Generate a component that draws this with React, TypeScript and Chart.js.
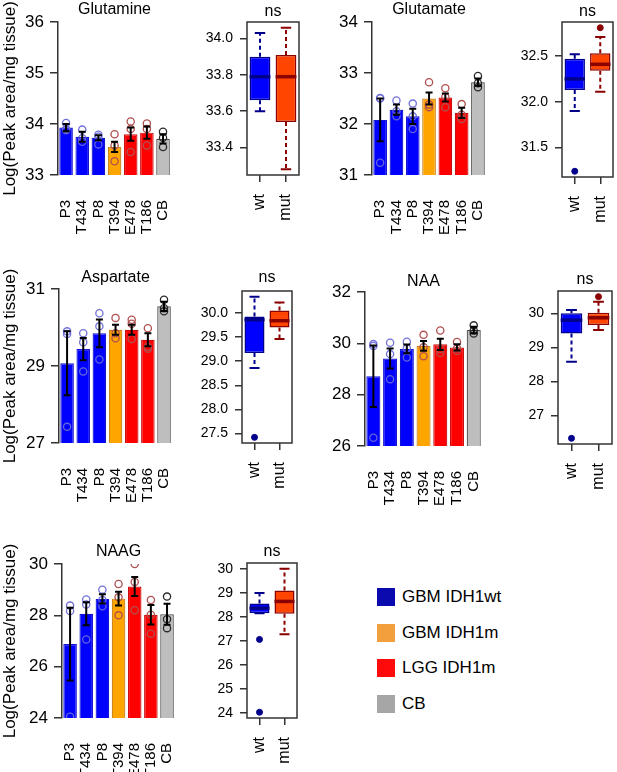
import React, { useEffect, useRef } from 'react';
import { Chart, registerables } from 'chart.js';

Chart.register(...registerables);

const FONT = "'Liberation Sans', Arial, Helvetica, sans-serif";
Chart.defaults.font.family = FONT;

// ---------------- data ----------------
const categories = ['P3', 'T434', 'P8', 'T394', 'E478', 'T186', 'CB'];
const categoryGroup = [0, 0, 0, 1, 2, 2, 3];
const legendLabels = ['GBM IDH1wt', 'GBM IDH1m', 'LGG IDH1m', 'CB'];
const boxLabels = ['wt', 'mut'];
const yAxisLabel = 'Log(Peak area/mg tissue)';
const boxTitle = 'ns';

// Glutamine
const glutamineMean = [33.93, 33.75, 33.73, 33.55, 33.8, 33.83, 33.71];
const glutamineSem = [0.07, 0.1, 0.05, 0.1, 0.13, 0.12, 0.09];
const glutaminePoints = [
  [34.02, 33.88, 33.9], [33.89, 33.65, 33.72], [33.79, 33.6, 33.75],
  [33.8, 33.27, 33.58], [34.05, 33.45, 33.9], [34.01, 33.58, 33.9], [33.85, 33.55, 33.73],
];
const glutamineTicks = [33, 34, 35, 36];
const glutamineBoxTicks = [33.4, 33.6, 33.8, 34.0];
const glutamineWt = [33.6, 33.66, 33.79, 33.9, 34.03];
const glutamineMut = [33.28, 33.54, 33.79, 33.91, 34.06];
const glutamineWtOut: number[] = [];
const glutamineMutOut: number[] = [];

// Glutamate
const glutamateMean = [32.08, 32.28, 32.15, 32.5, 32.52, 32.22, 32.82];
const glutamateSem = [0.42, 0.1, 0.15, 0.12, 0.08, 0.1, 0.07];
const glutamatePoints = [
  [32.51, 31.24, 32.5], [32.46, 32.15, 32.25], [32.4, 31.9, 32.15],
  [32.82, 32.33, 32.38], [32.7, 32.33, 32.53], [32.39, 32.1, 32.18], [32.94, 32.72, 32.8],
];
const glutamateTicks = [31, 32, 33, 34];
const glutamateBoxTicks = [31.5, 32.0, 32.5];
const glutamateWt = [31.9, 32.13, 32.25, 32.47, 32.52];
const glutamateMut = [32.11, 32.34, 32.41, 32.53, 32.71];
const glutamateWtOut = [31.24];
const glutamateMutOut = [32.81];

// Aspartate
const aspartateMean = [29.07, 29.44, 29.85, 29.94, 29.94, 29.68, 30.55];
const aspartateSem = [0.83, 0.29, 0.36, 0.13, 0.13, 0.17, 0.12];
const aspartatePoints = [
  [29.9, 29.83, 27.42], [29.85, 29.62, 28.86], [30.37, 30.03, 29.17],
  [30.25, 29.85, 29.72], [30.2, 30.1, 29.7], [29.98, 29.5, 29.45], [30.72, 30.5, 30.42],
];
const aspartateTicks = [27, 29, 31];
const aspartateBoxTicks = [27.5, 28.0, 28.5, 29.0, 29.5, 30.0];
const aspartateWt = [28.86, 29.17, 29.86, 29.93, 30.34];
const aspartateMut = [29.46, 29.7, 29.84, 30.05, 30.22];
const aspartateWtOut = [27.42];
const aspartateMutOut: number[] = [];

// NAA
const naaMean = [28.72, 29.41, 29.78, 29.9, 29.96, 29.84, 30.52];
const naaSem = [1.2, 0.39, 0.17, 0.19, 0.22, 0.12, 0.13];
const naaPoints = [
  [29.97, 29.9, 26.32], [30.02, 29.58, 28.6], [30.06, 29.8, 29.45],
  [30.33, 29.85, 29.5], [30.5, 29.78, 29.62], [30.05, 29.8, 29.7], [30.7, 30.5, 30.38],
];
const naaTicks = [26, 28, 30, 32];
const naaBoxTicks = [27, 28, 29, 30];
const naaWt = [28.58, 29.41, 29.8, 30.0, 30.1];
const naaMut = [29.51, 29.66, 29.87, 30.02, 30.34];
const naaWtOut = [26.33];
const naaMutOut = [30.49];

// NAAG
const naagMean = [26.88, 28.06, 28.64, 28.65, 29.12, 28.02, 28.04];
const naagSem = [1.42, 0.45, 0.18, 0.27, 0.37, 0.38, 0.41];
const naagPoints = [
  [28.38, 28.17, 24.05], [28.62, 28.42, 27.06], [29.0, 28.6, 28.35],
  [29.22, 28.7, 28.0], [30.0, 29.3, 28.2], [28.6, 28.02, 27.28], [28.73, 27.85, 27.5],
];
const naagTicks = [24, 26, 28, 30];
const naagBoxTicks = [24, 25, 26, 27, 28, 29, 30];
const naagWt = [28.15, 28.15, 28.36, 28.55, 28.99];
const naagMut = [27.27, 28.13, 28.64, 29.1, 30.0];
const naagWtOut = [27.06, 24.03];
const naagMutOut: number[] = [];

// ---------------- styles ----------------
const barFill = ['#0000FF', '#FFA500', '#FF0000', '#BEBEBE'];
const barBorder = ['#1515D0', '#C8801A', '#C81010', '#4A4A4A'];
const pointColor = ['rgba(105,105,215,0.95)', '#B0504F', '#B0504F', '#2A2A2A'];
const legendColors = ['#0A0AAE', '#F2A03D', '#FF0A0A', '#A6A6A6'];
const boxFill = ['#0000FF', '#FF4500'];
const boxLine = ['#00008B', '#8B0000'];

type Rect = { l: number; r: number; t: number; b: number };

interface BarSpec {
  title: string; mean: number[]; sem: number[]; points: number[][]; ticks: number[];
  plot: Rect; titleY: number; showYTitle: boolean;
}
interface BoxSpec {
  wt: number[]; mut: number[]; wtOut: number[]; mutOut: number[]; ticks: number[]; decimals: number;
  plot: Rect; titleY: number;
}

const TITLE_H = 26;
const BAR_X_H = 62;
const BOX_X_H = 52;

function BarPanel({ spec }: { spec: BarSpec }) {
  const ref = useRef<HTMLCanvasElement>(null);
  const left = spec.showYTitle ? 0 : spec.plot.l - 40;
  const yW = spec.plot.l - left;
  const width = spec.plot.r - left + 4;
  const top = spec.plot.t - TITLE_H;
  const height = TITLE_H + spec.plot.b - spec.plot.t + BAR_X_H;
  const pt = spec.titleY - top - 9.6;
  const pb = TITLE_H - 19.2 - pt;

  useEffect(() => {
    const pts: { x: string; y: number }[] = [];
    const ptColors: string[] = [];
    spec.points.forEach((arr, i) => arr.forEach((v) => {
      pts.push({ x: categories[i], y: v });
      ptColors.push(pointColor[categoryGroup[i]]);
    }));
    const errPlugin = {
      id: 'errbars',
      afterDatasetsDraw(chart: any) {
        const ctx = chart.ctx; const xs = chart.scales.x; const ys = chart.scales.y;
        const a = chart.chartArea;
        ctx.save();
        ctx.beginPath(); ctx.rect(a.left, a.top, a.right - a.left, a.bottom - a.top); ctx.clip();
        ctx.strokeStyle = '#000'; ctx.lineWidth = 2;
        spec.mean.forEach((m, i) => {
          const x = xs.getPixelForValue(i);
          const y1 = ys.getPixelForValue(m - spec.sem[i]);
          const y2 = ys.getPixelForValue(m + spec.sem[i]);
          ctx.beginPath();
          ctx.moveTo(x, y1); ctx.lineTo(x, y2);
          ctx.moveTo(x - 3.5, y1); ctx.lineTo(x + 3.5, y1);
          ctx.moveTo(x - 3.5, y2); ctx.lineTo(x + 3.5, y2);
          ctx.stroke();
        });
        ctx.restore();
      },
    };
    const chart = new Chart(ref.current as HTMLCanvasElement, {
      type: 'bar',
      data: {
        labels: categories,
        datasets: [
          {
            type: 'line', data: pts as any, showLine: false, order: 0, clip: 0 as any,
            pointRadius: 3.6, pointHoverRadius: 3.6, pointBorderWidth: 1.3,
            pointBackgroundColor: 'rgba(0,0,0,0)', pointBorderColor: ptColors,
          } as any,
          {
            type: 'bar', data: spec.mean, order: 1,
            backgroundColor: categoryGroup.map((g) => barFill[g]),
            borderColor: categoryGroup.map((g) => barBorder[g]),
            borderWidth: 1.2, borderSkipped: false, barPercentage: 0.84, categoryPercentage: 1,
          } as any,
        ],
      },
      options: {
        responsive: false, animation: false, devicePixelRatio: 1, events: [],
        layout: { padding: { left: 0, top: 0, bottom: 0, right: 4 } },
        plugins: {
          legend: { display: false }, tooltip: { enabled: false },
          title: {
            display: true, text: spec.title, color: '#000', fullSize: false,
            font: { family: FONT, size: 16, weight: 'normal' }, padding: { top: pt, bottom: pb },
          },
        },
        scales: {
          x: {
            type: 'category', offset: true,
            grid: { display: false }, border: { display: false },
            ticks: { color: '#000', font: { family: FONT, size: 15 }, padding: 17, minRotation: 90, maxRotation: 90, autoSkip: false },
            afterFit(s: any) { s.height = BAR_X_H; s.paddingLeft = 0; s.paddingRight = 0; },
          },
          y: {
            type: 'linear', min: spec.ticks[0], max: spec.ticks[spec.ticks.length - 1],
            afterBuildTicks(s: any) { s.ticks = spec.ticks.map((v) => ({ value: v })); },
            ticks: { color: '#000', font: { family: FONT, size: 17 }, padding: 6 },
            grid: { drawOnChartArea: false, drawTicks: true, tickLength: 8, color: '#333', lineWidth: 1.5 },
            border: { display: true, color: '#333', width: 1.5 },
            title: spec.showYTitle
              ? { display: true, text: yAxisLabel, color: '#000', font: { family: FONT, size: 17 }, padding: 0 }
              : { display: false },
            afterFit(s: any) { s.width = yW; s.paddingTop = 0; s.paddingBottom = 0; },
          },
        },
      } as any,
      plugins: [errPlugin],
    });
    return () => chart.destroy();
  }, []);

  return <canvas ref={ref} width={width} height={height} style={{ position: 'absolute', left, top, width, height }} />;
}

function BoxPanel({ spec }: { spec: BoxSpec }) {
  const ref = useRef<HTMLCanvasElement>(null);
  const yW = 45;
  const left = spec.plot.l - yW;
  const width = spec.plot.r - left + 3;
  const top = spec.plot.t - TITLE_H;
  const height = TITLE_H + spec.plot.b - spec.plot.t + BOX_X_H;
  const pt = spec.titleY - top - 9.6;
  const pb = TITLE_H - 19.2 - pt;

  useEffect(() => {
    const all = [...spec.wt, ...spec.mut, ...spec.wtOut, ...spec.mutOut];
    const lo = Math.min(...all); const hi = Math.max(...all);
    const ext = (hi - lo) * 0.04;
    const outliers: { x: string; y: number }[] = [];
    const outColors: string[] = [];
    spec.wtOut.forEach((v) => { outliers.push({ x: boxLabels[0], y: v }); outColors.push(boxLine[0]); });
    spec.mutOut.forEach((v) => { outliers.push({ x: boxLabels[1], y: v }); outColors.push(boxLine[1]); });

    const statsPlugin = {
      id: 'boxstats',
      afterDatasetsDraw(chart: any) {
        const ctx = chart.ctx; const ys = chart.scales.y;
        const meta = chart.getDatasetMeta(1);
        [spec.wt, spec.mut].forEach((st, i) => {
          const el = meta.data[i]; const x = el.x; const w = el.width;
          const py = (v: number) => ys.getPixelForValue(v);
          ctx.save();
          ctx.strokeStyle = boxLine[i]; ctx.lineWidth = 2;
          ctx.setLineDash([4, 3]);
          ctx.beginPath();
          ctx.moveTo(x, py(st[3])); ctx.lineTo(x, py(st[4]));
          ctx.moveTo(x, py(st[1])); ctx.lineTo(x, py(st[0]));
          ctx.stroke();
          ctx.setLineDash([]);
          ctx.beginPath();
          ctx.moveTo(x - w * 0.25, py(st[4])); ctx.lineTo(x + w * 0.25, py(st[4]));
          ctx.moveTo(x - w * 0.25, py(st[0])); ctx.lineTo(x + w * 0.25, py(st[0]));
          ctx.stroke();
          ctx.lineWidth = 3.5;
          ctx.beginPath();
          ctx.moveTo(x - w / 2, py(st[2])); ctx.lineTo(x + w / 2, py(st[2]));
          ctx.stroke();
          ctx.restore();
        });
      },
    };
    const framePlugin = {
      id: 'frame',
      afterDraw(chart: any) {
        const { left: l, top: t, right: r, bottom: b } = chart.chartArea;
        const ctx = chart.ctx;
        ctx.save(); ctx.strokeStyle = '#333'; ctx.lineWidth = 1.5;
        ctx.strokeRect(l, t, r - l, b - t); ctx.restore();
      },
    };

    const chart = new Chart(ref.current as HTMLCanvasElement, {
      type: 'bar',
      data: {
        labels: boxLabels,
        datasets: [
          {
            type: 'line', data: outliers as any, showLine: false, order: 0,
            pointRadius: 3, pointHoverRadius: 3, pointBorderWidth: 1,
            pointBackgroundColor: outColors, pointBorderColor: outColors,
          } as any,
          {
            type: 'bar', order: 1,
            data: [[spec.wt[1], spec.wt[3]], [spec.mut[1], spec.mut[3]]] as any,
            backgroundColor: boxFill, borderColor: boxLine, borderWidth: 1.5, borderSkipped: false,
            barPercentage: 0.8, categoryPercentage: 1,
          } as any,
        ],
      },
      options: {
        responsive: false, animation: false, devicePixelRatio: 1, events: [],
        layout: { padding: { left: 0, top: 0, bottom: 0, right: 3 } },
        plugins: {
          legend: { display: false }, tooltip: { enabled: false },
          title: {
            display: true, text: boxTitle, color: '#000', fullSize: false,
            font: { family: FONT, size: 16, weight: 'normal' }, padding: { top: pt, bottom: pb },
          },
        },
        scales: {
          x: {
            type: 'category', offset: true,
            grid: { display: true, drawOnChartArea: false, drawTicks: true, tickLength: 7, offset: false, color: '#333', lineWidth: 1.5 },
            border: { display: false },
            ticks: { color: '#000', font: { family: FONT, size: 16 }, padding: 12, minRotation: 90, maxRotation: 90, autoSkip: false },
            afterFit(s: any) { s.height = BOX_X_H; s.paddingLeft = 0; s.paddingRight = 0; },
          },
          y: {
            type: 'linear', min: lo - ext, max: hi + ext,
            afterBuildTicks(s: any) { s.ticks = spec.ticks.map((v) => ({ value: v })); },
            ticks: { color: '#000', font: { family: FONT, size: 14 }, padding: 7, callback: (v: any) => Number(v).toFixed(spec.decimals) },
            grid: { drawOnChartArea: false, drawTicks: true, tickLength: 7, color: '#333', lineWidth: 1.5 },
            border: { display: false },
            afterFit(s: any) { s.width = yW; s.paddingTop = 0; s.paddingBottom = 0; },
          },
        },
      } as any,
      plugins: [statsPlugin, framePlugin],
    });
    return () => chart.destroy();
  }, []);

  return <canvas ref={ref} width={width} height={height} style={{ position: 'absolute', left, top, width, height }} />;
}

const barSpecs: BarSpec[] = [
  { title: 'Glutamine', mean: glutamineMean, sem: glutamineSem, points: glutaminePoints, ticks: glutamineTicks, plot: { l: 58, r: 172, t: 22, b: 175 }, titleY: 10, showYTitle: true },
  { title: 'Glutamate', mean: glutamateMean, sem: glutamateSem, points: glutamatePoints, ticks: glutamateTicks, plot: { l: 372, r: 487, t: 22, b: 175 }, titleY: 10, showYTitle: false },
  { title: 'Aspartate', mean: aspartateMean, sem: aspartateSem, points: aspartatePoints, ticks: aspartateTicks, plot: { l: 59, r: 173, t: 289, b: 443 }, titleY: 278, showYTitle: true },
  { title: 'NAA', mean: naaMean, sem: naaSem, points: naaPoints, ticks: naaTicks, plot: { l: 365, r: 483, t: 292, b: 446 }, titleY: 282, showYTitle: false },
  { title: 'NAAG', mean: naagMean, sem: naagSem, points: naagPoints, ticks: naagTicks, plot: { l: 62, r: 176, t: 564, b: 718 }, titleY: 552, showYTitle: true },
];

const boxSpecs: BoxSpec[] = [
  { wt: glutamineWt, mut: glutamineMut, wtOut: glutamineWtOut, mutOut: glutamineMutOut, ticks: glutamineBoxTicks, decimals: 1, plot: { l: 247, r: 299, t: 22, b: 175 }, titleY: 12 },
  { wt: glutamateWt, mut: glutamateMut, wtOut: glutamateWtOut, mutOut: glutamateMutOut, ticks: glutamateBoxTicks, decimals: 1, plot: { l: 562, r: 614, t: 22, b: 177 }, titleY: 12 },
  { wt: aspartateWt, mut: aspartateMut, wtOut: aspartateWtOut, mutOut: aspartateMutOut, ticks: aspartateBoxTicks, decimals: 1, plot: { l: 242, r: 293, t: 291, b: 443 }, titleY: 278 },
  { wt: naaWt, mut: naaMut, wtOut: naaWtOut, mutOut: naaMutOut, ticks: naaBoxTicks, decimals: 0, plot: { l: 558, r: 613, t: 291, b: 444 }, titleY: 280 },
  { wt: naagWt, mut: naagMut, wtOut: naagWtOut, mutOut: naagMutOut, ticks: naagBoxTicks, decimals: 0, plot: { l: 247, r: 298, t: 563, b: 718 }, titleY: 552 },
];

export default function App() {
  return (
    <div style={{ position: 'absolute', left: 0, top: 0, width: 617, height: 772, background: '#fff', overflow: 'hidden' }}>
      {barSpecs.map((s, i) => <BarPanel key={'bar' + i} spec={s} />)}
      {boxSpecs.map((s, i) => <BoxPanel key={'box' + i} spec={s} />)}
      <div style={{ position: 'absolute', left: 377, top: 588, fontFamily: FONT, fontSize: 17, color: '#000' }}>
        {legendLabels.map((lab, i) => (
          <div key={lab} style={{ position: 'absolute', left: 0, top: i * 35.5, display: 'flex', alignItems: 'center', height: 18 }}>
            <div style={{ width: 18, height: 18, background: legendColors[i], flex: 'none' }} />
            <span style={{ marginLeft: 7, whiteSpace: 'nowrap', lineHeight: '18px' }}>{lab}</span>
          </div>
        ))}
      </div>
    </div>
  );
}
